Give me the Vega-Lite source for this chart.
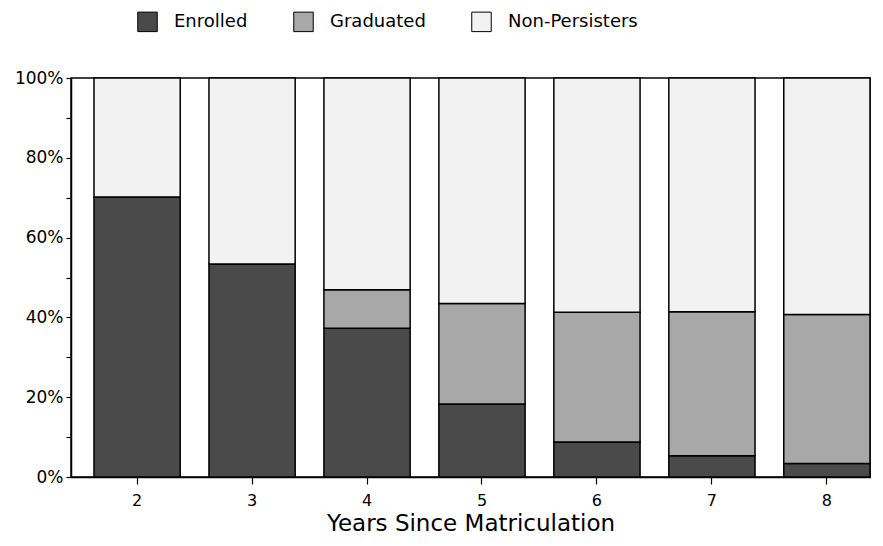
{
  "$schema": "https://vega.github.io/schema/vega-lite/v6.json",
  "autosize": {"type": "none"},
  "padding": {"left": 71, "top": 78, "right": 13, "bottom": 69},
  "width": 799,
  "height": 399,
  "config": {
    "font": "DejaVu Sans",
    "view": {"stroke": "black", "strokeWidth": 1.5},
    "axis": {"grid": false, "domainColor": "black", "tickColor": "black", "labelColor": "black", "titleColor": "black", "domainWidth": 1.5, "tickWidth": 1.2}
  },
  "data": {
    "values": [
      {"year": "2", "status": "Enrolled", "ord": 1, "pct": 70.2},
      {"year": "2", "status": "Graduated", "ord": 2, "pct": 0},
      {"year": "2", "status": "Non-Persisters", "ord": 3, "pct": 29.8},
      {"year": "3", "status": "Enrolled", "ord": 1, "pct": 53.4},
      {"year": "3", "status": "Graduated", "ord": 2, "pct": 0},
      {"year": "3", "status": "Non-Persisters", "ord": 3, "pct": 46.6},
      {"year": "4", "status": "Enrolled", "ord": 1, "pct": 37.3},
      {"year": "4", "status": "Graduated", "ord": 2, "pct": 9.6},
      {"year": "4", "status": "Non-Persisters", "ord": 3, "pct": 53.1},
      {"year": "5", "status": "Enrolled", "ord": 1, "pct": 18.3},
      {"year": "5", "status": "Graduated", "ord": 2, "pct": 25.2},
      {"year": "5", "status": "Non-Persisters", "ord": 3, "pct": 56.5},
      {"year": "6", "status": "Enrolled", "ord": 1, "pct": 8.8},
      {"year": "6", "status": "Graduated", "ord": 2, "pct": 32.5},
      {"year": "6", "status": "Non-Persisters", "ord": 3, "pct": 58.7},
      {"year": "7", "status": "Enrolled", "ord": 1, "pct": 5.3},
      {"year": "7", "status": "Graduated", "ord": 2, "pct": 36.1},
      {"year": "7", "status": "Non-Persisters", "ord": 3, "pct": 58.6},
      {"year": "8", "status": "Enrolled", "ord": 1, "pct": 3.4},
      {"year": "8", "status": "Graduated", "ord": 2, "pct": 37.3},
      {"year": "8", "status": "Non-Persisters", "ord": 3, "pct": 59.3}
    ]
  },
  "mark": {"type": "bar", "stroke": "black", "strokeWidth": 1.5},
  "encoding": {
    "x": {
      "field": "year", "type": "ordinal",
      "scale": {"paddingInner": 0.25, "paddingOuter": 0.1, "align": 1},
      "axis": {"labelAngle": 0, "labelFontSize": 16, "labelPadding": 8, "tickSize": 7, "title": "Years Since Matriculation", "titleFontSize": 23, "titleFontWeight": "normal", "titlePadding": 4}
    },
    "y": {
      "field": "pct", "type": "quantitative", "stack": "normalize",
      "scale": {"domain": [0, 1], "nice": false},
      "axis": {"title": null, "values": [0, 0.1, 0.2, 0.3, 0.4, 0.5, 0.6, 0.7, 0.8, 0.9, 1], "labelExpr": "round(datum.value*100) % 20 == 0 ? round(datum.value*100) + '%' : ''", "labelFontSize": 17, "tickSize": 5, "labelPadding": 3}
    },
    "order": {"field": "ord", "type": "quantitative"},
    "color": {
      "field": "status", "type": "nominal",
      "scale": {"domain": ["Enrolled", "Graduated", "Non-Persisters"], "range": ["#4a4a4a", "#a8a8a8", "#f2f2f2"]},
      "legend": {"title": null, "orient": "none", "direction": "horizontal", "legendX": 66, "legendY": -67, "symbolType": "square", "symbolSize": 380, "symbolStrokeColor": "black", "symbolStrokeWidth": 1, "labelFontSize": 18, "labelColor": "black", "labelOffset": 16, "columnPadding": 43, "symbolOpacity": 1}
    }
  }
}
